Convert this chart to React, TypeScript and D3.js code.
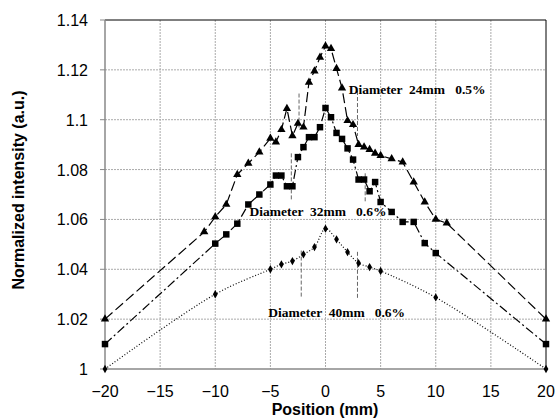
import React, { useEffect, useRef } from "react";
import * as d3 from "d3";

// diameter 24mm (triangles)
const posA = [-20, -11, -10, -9, -8, -7, -6, -5, -4.5, -4, -3.5, -3, -2.5, -2, -1.5, -1, -0.5, 0, 0.5, 1, 1.5, 2, 2.5, 3, 3.5, 4, 4.5, 5, 6, 7, 8, 9, 10, 11, 20];
const valA = [1.02, 1.055, 1.061, 1.066, 1.078, 1.0825, 1.087, 1.0925, 1.091, 1.096, 1.1045, 1.0935, 1.0985, 1.097, 1.115, 1.1195, 1.125, 1.1295, 1.1285, 1.1205, 1.1127, 1.0996, 1.098, 1.09, 1.089, 1.088, 1.0865, 1.0856, 1.0843, 1.083, 1.075, 1.067, 1.06, 1.0585, 1.02];

// diameter 32mm (squares)
const posB = [-20, -10, -9, -8, -7, -6, -5, -4.5, -4, -3.5, -3, -2.5, -2, -1.5, -1, -0.5, 0, 0.5, 1, 1.5, 2, 2.5, 3, 3.5, 4, 4.5, 5, 6, 7, 8, 9, 10, 20];
const valB = [1.01, 1.0503, 1.054, 1.0583, 1.066, 1.07, 1.074, 1.0776, 1.0776, 1.0733, 1.0733, 1.085, 1.089, 1.093, 1.093, 1.097, 1.1047, 1.101, 1.0947, 1.0923, 1.0885, 1.084, 1.076, 1.076, 1.0713, 1.075, 1.067, 1.063, 1.059, 1.059, 1.0505, 1.0465, 1.01];

// diameter 40mm (diamonds)
const posC = [-20, -10, -5, -4, -3, -2, -1, 0, 1, 2, 3, 4, 5, 10, 20];
const valC = [1.0, 1.03, 1.04, 1.042, 1.0433, 1.046, 1.0489, 1.0563, 1.052, 1.0469, 1.0425, 1.0409, 1.0393, 1.0287, 1.0];

const xTicks = [-20, -15, -10, -5, 0, 5, 10, 15, 20];
const yTicks = [1, 1.02, 1.04, 1.06, 1.08, 1.1, 1.12, 1.14];

// dashed marker lines: [position, top value, bottom value]
const guides = [
  [-3.1, 1.0865, 1.0675],
  [-2.4, 1.1105, 1.0965],
  [2.9, 1.1115, 1.0935],
  [3.6, 1.0785, 1.0665],
  [-2.2, 1.0475, 1.029],
  [2.9, 1.047, 1.0285],
];

const notes = [
  { x: 2.1, y: 1.1105, text: "Diameter  24mm   0.5%" },
  { x: -6.9, y: 1.0612, text: "Diameter  32mm   0.6%" },
  { x: -5.2, y: 1.0208, text: "Diameter  40mm   0.6%" },
];

export default function App() {
  const ref = useRef<SVGSVGElement>(null);

  useEffect(() => {
    const svg = d3.select(ref.current);
    svg.selectAll("*").remove();
    const left = 105, right = 546, top = 20, bottom = 369;

    const x = d3.scaleLinear().domain([-20, 20]).range([left, right]);
    const y = d3.scaleLinear().domain([1, 1.14]).range([bottom, top]);
    const sans = "'Liberation Sans', Arial, sans-serif";

    // grid
    svg.append("g").selectAll("line").data(xTicks.slice(1, -1)).join("line")
      .attr("x1", d => x(d)).attr("x2", d => x(d)).attr("y1", top).attr("y2", bottom)
      .attr("stroke", "#aaa").attr("stroke-dasharray", "2,1");
    svg.append("g").selectAll("line").data(yTicks.slice(1, -1)).join("line")
      .attr("y1", d => y(d)).attr("y2", d => y(d)).attr("x1", left).attr("x2", right)
      .attr("stroke", "#aaa").attr("stroke-dasharray", "2,1");

    // frame
    svg.append("line").attr("x1", left).attr("x2", right).attr("y1", top).attr("y2", top).attr("stroke", "#000");
    svg.append("line").attr("x1", right).attr("x2", right).attr("y1", top).attr("y2", bottom).attr("stroke", "#000");
    svg.append("line").attr("x1", left).attr("x2", left).attr("y1", top).attr("y2", bottom).attr("stroke", "#888").attr("stroke-width", 1.5);
    svg.append("line").attr("x1", left).attr("x2", right).attr("y1", bottom).attr("y2", bottom).attr("stroke", "#888").attr("stroke-width", 1.5);

    // y ticks
    svg.append("g").selectAll("line").data(yTicks).join("line")
      .attr("x1", left - 5).attr("x2", left).attr("y1", d => y(d)).attr("y2", d => y(d))
      .attr("stroke", "#888");
    svg.append("g").selectAll("text").data(yTicks).join("text")
      .attr("x", 88).attr("y", d => y(d) + 6).attr("text-anchor", "end")
      .attr("font-family", sans).attr("font-size", 16)
      .text(d => String(d));
    svg.append("g").selectAll("text").data(xTicks).join("text")
      .attr("x", d => x(d)).attr("y", 397).attr("text-anchor", "middle")
      .attr("font-family", sans).attr("font-size", 16)
      .text(d => (d < 0 ? "\u2212" + Math.abs(d) : String(d)));

    svg.append("text").attr("x", 325).attr("y", 415).attr("text-anchor", "middle")
      .attr("font-family", sans).attr("font-size", 16).attr("font-weight", "bold")
      .text("Position (mm)");
    svg.append("text").attr("transform", "translate(24,190) rotate(-90)").attr("text-anchor", "middle")
      .attr("font-family", sans).attr("font-size", 16).attr("font-weight", "bold")
      .text("Normalized intensity (a.u.)");

    // guide dashes
    svg.append("g").selectAll("line").data(guides).join("line")
      .attr("x1", d => x(d[0])).attr("x2", d => x(d[0]))
      .attr("y1", d => y(d[1])).attr("y2", d => y(d[2]))
      .attr("stroke", "#666").attr("stroke-dasharray", "4,2");

    const series = [
      { xs: posA, ys: valA, dash: "10,4", sym: d3.symbolTriangle, size: 30, curve: d3.curveLinear },
      { xs: posB, ys: valB, dash: "9,3,2,3", sym: d3.symbolSquare, size: 42, curve: d3.curveLinear },
      { xs: posC, ys: valC, dash: "1,2", sym: d3.symbolDiamond, size: 20, curve: d3.curveCatmullRom.alpha(0.5) },
    ];
    series.forEach(s => {
      const pts: [number, number][] = s.xs.map((v, i) => [v, s.ys[i]]);
      const line = d3.line<[number, number]>().x(d => x(d[0])).y(d => y(d[1])).curve(s.curve);
      svg.append("path").datum(pts).attr("d", line).attr("fill", "none")
        .attr("stroke", "#000").attr("stroke-width", 1.2).attr("stroke-dasharray", s.dash);
      svg.append("g").selectAll("path").data(pts).join("path")
        .attr("transform", d => `translate(${x(d[0])},${y(d[1])})`)
        .attr("d", d3.symbol().type(s.sym).size(s.size)).attr("fill", "#000");
    });

    svg.append("g").selectAll("text").data(notes).join("text")
      .attr("x", d => x(d.x)).attr("y", d => y(d.y))
      .attr("font-family", "'Liberation Serif', 'Times New Roman', serif")
      .attr("font-size", 13.5).attr("font-weight", "bold")
      .style("white-space", "pre")
      .text(d => d.text);
  }, []);

  return (
    <div style={{ position: "absolute", left: 0, top: 0 }}>
      <svg ref={ref} width={556} height={419} style={{ display: "block", background: "#fff" }} />
    </div>
  );
}
